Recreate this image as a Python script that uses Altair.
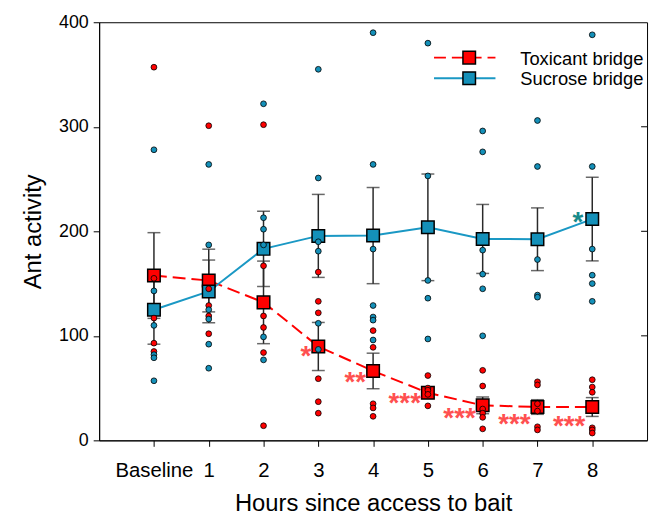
import altair as alt
import pandas as pd

# ---------------- data ----------------
hours = [0, 1, 2, 3, 4, 5, 6, 7, 8]
x_tick_labels = ["Baseline", "1", "2", "3", "4", "5", "6", "7", "8"]
y_ticks = [0, 100, 200, 300, 400]

tox_mean = [157.7, 152.9, 132.0, 89.8, 66.4, 45.5, 33.5, 31.9, 31.9]
tox_se = [41.0, 30.0, 39.5, 23.0, 17.0, 5.0, 8.0, 7.0, 9.0]
suc_mean = [125.0, 142.5, 183.2, 195.6, 195.9, 203.8, 192.7, 192.4, 211.7]
suc_se = [33.0, 30.0, 36.0, 39.7, 46.0, 51.0, 33.0, 30.0, 40.0]

tox_points = {
    0: [357, 155, 117, 93, 85],
    1: [301, 145, 129, 119, 102],
    2: [302, 167, 119, 108, 84, 14],
    3: [161, 133, 122, 59, 37, 26],
    4: [105, 89, 35, 31, 23],
    5: [62, 50, 48, 44, 33],
    6: [67, 52, 30, 26, 22, 11],
    7: [56, 53, 35, 28, 13, 10],
    8: [58, 51, 46, 12, 10, 7],
}
suc_points = {
    0: [278, 143, 110, 82, 79, 57],
    1: [264, 187, 125, 116, 92, 69],
    2: [322, 213, 202, 187, 99, 77],
    3: [355, 251, 190, 181, 112, 87],
    4: [390, 264, 183, 129, 118, 115, 96],
    5: [380, 253, 153, 136, 97],
    6: [296, 276, 182, 159, 145, 100],
    7: [306, 262, 173, 139, 137],
    8: [388, 262, 183, 158, 150, 133],
}

star_hours = [3, 4, 5, 6, 7, 8]
star_labels = ["*", "**", "***", "***", "***", "***"]
star_y = [87, 62, 42, 27.5, 22, 20]
teal_star_hour = [8]
teal_star_y = [215]

groups = ["Toxicant bridge", "Sucrose bridge"]
RED = "#ff0000"
BLUE = "#1490b9"
BLUE_LINE = "#1a98c4"

# ---------------- tables ----------------
pts_rows = []
for h in hours:
    for v in tox_points[h]:
        pts_rows.append({"hour": h, "value": v, "group": groups[0]})
    for v in suc_points[h]:
        pts_rows.append({"hour": h, "value": v, "group": groups[1]})
pts = pd.DataFrame(pts_rows)

tox = pd.DataFrame({"hour": hours, "mean": tox_mean,
                    "lo": [m - s for m, s in zip(tox_mean, tox_se)],
                    "hi": [m + s for m, s in zip(tox_mean, tox_se)]})
suc = pd.DataFrame({"hour": hours, "mean": suc_mean,
                    "lo": [m - s for m, s in zip(suc_mean, suc_se)],
                    "hi": [m + s for m, s in zip(suc_mean, suc_se)]})
stars = pd.DataFrame({"hour": star_hours, "y": star_y, "label": star_labels})
teal = pd.DataFrame({"hour": teal_star_hour, "y": teal_star_y, "label": ["*"]})
rticks = pd.DataFrame({"t": [100, 200, 300]})
one = pd.DataFrame({"a": [0]})

W, H = 553, 422
FONT = "Liberation Sans"

xscale = alt.Scale(domain=[-1, 9], nice=False)
yscale = alt.Scale(domain=[0, 400], nice=False)
xaxis = alt.Axis(values=hours, title="Hours since access to bait", grid=False,
                 labelExpr="datum.value == 0 ? 'Baseline' : datum.label",
                 tickSize=6, labelPadding=14, labelFontSize=20.5, titleFontSize=24,
                 titlePadding=11, labelFlush=False)
yaxis = alt.Axis(values=y_ticks, title="Ant activity", grid=False, tickSize=6,
                 labelPadding=5, labelFontSize=18, titleFontSize=24, titlePadding=13)


def X(f):
    return alt.X(f, type="quantitative", scale=xscale, axis=xaxis)


def Y(f):
    return alt.Y(f, type="quantitative", scale=yscale, axis=yaxis)


def errbars(df):
    rule = alt.Chart(df).mark_rule(color="#2a2a2a", strokeWidth=1.5).encode(
        x=X("hour"), y=Y("lo"), y2="hi")
    cap_lo = alt.Chart(df).mark_tick(orient="horizontal", size=13, thickness=1.5,
                                     color="#2a2a2a").encode(x=X("hour"), y=Y("lo"))
    cap_hi = alt.Chart(df).mark_tick(orient="horizontal", size=13, thickness=1.5,
                                     color="#2a2a2a").encode(x=X("hour"), y=Y("hi"))
    return rule + cap_lo + cap_hi


tox_line = alt.Chart(tox).mark_line(color=RED, strokeWidth=2, strokeDash=[13, 6]).encode(
    x=X("hour"), y=Y("mean"))
suc_line = alt.Chart(suc).mark_line(color=BLUE_LINE, strokeWidth=2).encode(
    x=X("hour"), y=Y("mean"))
tox_sq = alt.Chart(tox).mark_point(shape="square", size=160, filled=True, fill=RED,
                                   stroke="black", strokeWidth=1.5, opacity=1).encode(
    x=X("hour"), y=Y("mean"))
suc_sq = alt.Chart(suc).mark_point(shape="square", size=160, filled=True, fill=BLUE,
                                   stroke="black", strokeWidth=1.5, opacity=1).encode(
    x=X("hour"), y=Y("mean"))
points = alt.Chart(pts).mark_circle(size=34, stroke="black", strokeWidth=0.8, opacity=1).encode(
    x=X("hour"), y=Y("value"),
    fill=alt.Fill("group:N", scale=alt.Scale(domain=groups, range=[RED, BLUE]), legend=None))
star_txt = alt.Chart(stars).mark_text(align="right", baseline="middle", dx=-7, dy=8,
                                      fontSize=28, fontWeight="bold", color="#ff5050",
                                      font=FONT).encode(
    x=X("hour"), y=Y("y"), text="label:N")
teal_txt = alt.Chart(teal).mark_text(align="right", baseline="middle", dx=-9, dy=8,
                                     fontSize=28, fontWeight="bold", color="#178a8a",
                                     font=FONT).encode(
    x=X("hour"), y=Y("y"), text="label:N")
right_ticks = alt.Chart(rticks).mark_rule(color="black", strokeWidth=1).encode(
    y=Y("t"), x=alt.value(W - 6), x2=alt.value(W))

# ---------------- manual legend ----------------
legend_layers = []
for (label, col, fillc, dash, ly) in [
    (groups[0], RED, RED, [12, 6], 35.7),
    (groups[1], BLUE_LINE, BLUE, [1, 0], 56.5),
]:
    legend_layers.append(alt.Chart(one).mark_rule(color=col, strokeWidth=2, strokeDash=dash).encode(
        x=alt.value(338), x2=alt.value(400), y=alt.value(ly)))
    legend_layers.append(alt.Chart(one).mark_point(shape="square", size=160, filled=True, fill=fillc,
                                                   stroke="black", strokeWidth=1.5, opacity=1).encode(
        x=alt.value(373.5), y=alt.value(ly)))
    legend_layers.append(alt.Chart(one).mark_text(align="left", baseline="middle", fontSize=18.5,
                                                  font=FONT, color="black").encode(
        x=alt.value(425), y=alt.value(ly + 1), text=alt.value(label)))

chart = alt.layer(
    errbars(tox), errbars(suc), tox_line, suc_line, tox_sq, suc_sq, points,
    star_txt, teal_txt, right_ticks, *legend_layers
).properties(
    width=W, height=H,
    autosize=alt.AutoSizeParams(type="none"),
    padding={"left": 92, "top": 12, "right": 5, "bottom": 78},
).configure_view(
    stroke="black", strokeWidth=1
).configure_axis(
    domainColor="black", tickColor="black", labelColor="black", titleColor="black",
    labelFont=FONT, titleFont=FONT, titleFontWeight="normal", domainWidth=1, tickWidth=1
)

chart.save("out.html", embed_options={"renderer": "svg", "actions": False})
